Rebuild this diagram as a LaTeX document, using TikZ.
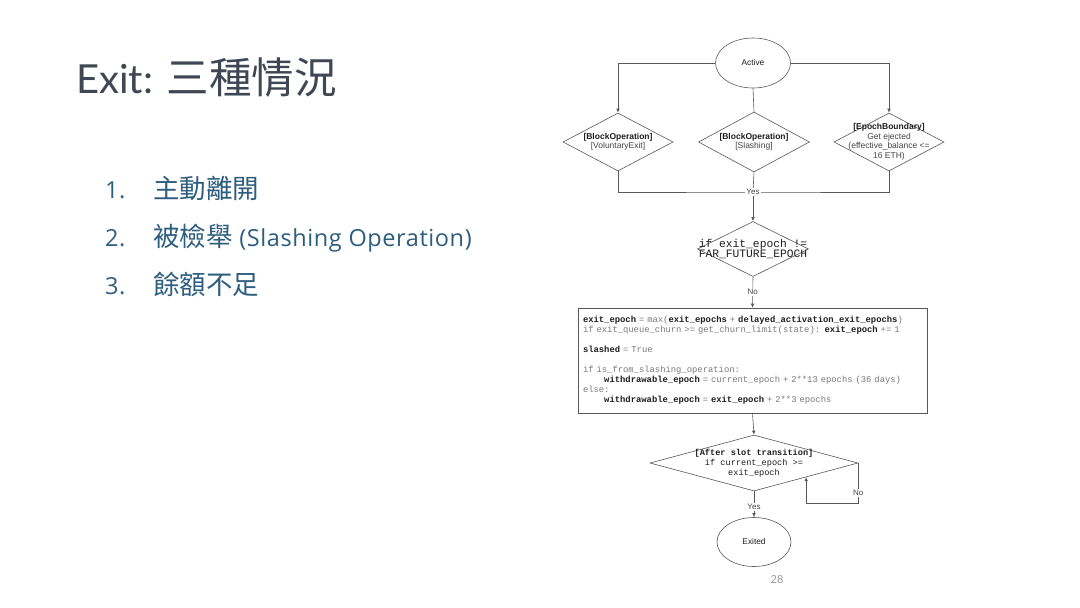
\documentclass[tikz,border=0pt]{standalone}
\usepackage{fontspec}
\setmonofont{Liberation Mono}
\newfontfamily\diafont{Liberation Sans}
\newfontfamily\slidefont{Lato}
\newfontfamily\listfont[LetterSpace=2.5]{Open Sans}
\newfontfamily\cjk{Noto Sans CJK TC}
\usetikzlibrary{arrows.meta,shapes.geometric,positioning}
\definecolor{ink}{HTML}{1E1E1E}
\definecolor{ink2}{HTML}{454545}
\definecolor{edge}{HTML}{585858}
\definecolor{codegray}{HTML}{7A7A7A}
\definecolor{titlegray}{HTML}{3E4753}
\definecolor{listblue}{HTML}{2E5E7E}
\definecolor{pagegray}{HTML}{9A9A9A}
\newcommand{\kw}[1]{\textbf{\textcolor{ink}{#1}}}
\newcommand{\ind}{\hspace*{2.4em}}
\tikzset{
  every node/.style={inner sep=0pt},
  term/.style={draw=edge, line width=0.6pt, ellipse, minimum width=75pt, minimum height=50pt,
               font=\diafont\fontsize{8.3}{9.6}\selectfont, text=ink},
  dec/.style={draw=edge, line width=0.6pt, diamond, inner sep=0pt},
  dlab/.style={align=center, font=\diafont\fontsize{8.5}{9.5}\selectfont, text=ink2},
  clab/.style={align=center, font=\ttfamily\fontsize{8.6}{10}\selectfont, text=ink},
  codebox/.style={draw=edge, line width=0.6pt, align=left, text width=339pt, inner xsep=5pt,
                  minimum height=105pt, font=\ttfamily\fontsize{8.85}{10}\selectfont, text=codegray},
  arr/.style={-{Latex[length=4pt,width=3.6pt]}, draw=edge, line width=0.6pt},
  conn/.style={draw=edge, line width=0.6pt},
  lab/.style={font=\diafont\fontsize{8}{9}\selectfont, text=ink2, fill=white, inner sep=1pt},
  title/.style={font=\slidefont\fontsize{40}{42}\selectfont, text=titlegray, anchor=base west},
  num/.style={font=\listfont\fontsize{23.5}{26}\selectfont, text=listblue, anchor=base west},
  item/.style={font=\listfont\fontsize{23.5}{26}\selectfont, text=listblue, anchor=base west},
}

\begin{document}
\begin{tikzpicture}[x=1pt, y=-1pt]
% ---- page -------------------------------------------------------------------
\useasboundingbox[fill=white] (0,0) rectangle (1080,608);

% ---- slide text ---------------------------------------------------------------
\node[title] (title) at (76,93) {Exit: {\cjk\fontsize{42.5}{42}\selectfont 三種情況}};
\node[num]  (n1) at (105,198) {1.};
\node[item] (i1) at (153,198) {{\cjk\fontsize{26.5}{26}\selectfont 主動離開}};
\node[num]  (n2) at (105,246) {2.};
\node[item] (i2) at (153,246) {{\cjk\fontsize{26.5}{26}\selectfont 被檢舉} (Slashing Operation)};
\node[num]  (n3) at (105,294) {3.};
\node[item] (i3) at (153,294) {{\cjk\fontsize{26.5}{26}\selectfont 餘額不足}};
\node[font=\slidefont\fontsize{11}{12}\selectfont, text=pagegray] (page) at (777,580) {28};

% ---- grid (pt, y down) ----------------------------------------------------------
\def\xL{618} \def\xM{753} \def\xR{889}
\def\rA{63} \def\rB{142} \def\rJ{192} \def\rF{249} \def\rC{360.5} \def\rS{463} \def\rE{542}

% ---- states -------------------------------------------------------------------
\node[term] (active) at (\xM,\rA) {Active};
\node[term, minimum width=74pt, minimum height=49pt] (exited) at (\xM+1,\rE) {Exited};

% ---- exit triggers ------------------------------------------------------------
\node[dec, minimum width=110pt, minimum height=58pt,
      label={[dlab]center:{\textbf{\textcolor{ink}{[BlockOperation]}}\\{[VoluntaryExit]}}}] (vol) at (\xL,\rB) {};
\node[dec, minimum width=111pt, minimum height=60pt,
      label={[dlab]center:{\textbf{\textcolor{ink}{[BlockOperation]}}\\{[Slashing]}}}] (slash) at (\xM+1,\rB) {};
\node[dec, minimum width=110pt, minimum height=58pt,
      label={[dlab]center:{\textbf{\textcolor{ink}{[EpochBoundary]}}\\Get ejected\\(effective\_balance <=\\16 ETH)}}] (eject) at (\xR,\rB) {};
\coordinate (J) at (\xM,\rJ);   % the three triggers join here

% ---- exit epoch check ---------------------------------------------------------
\node[dec, minimum width=111pt, minimum height=55pt,
      label={[clab, font=\ttfamily\fontsize{11.3}{10}\selectfont]center:{if exit\_epoch !=\\FAR\_FUTURE\_EPOCH}}] (far) at (\xM,\rF) {};

% ---- exit queue ---------------------------------------------------------------
\node[codebox] (queue) at (752.5,\rC) {%
\kw{exit\_epoch} = max(\kw{exit\_epochs} + \kw{delayed\_activation\_exit\_epochs})\\
if exit\_queue\_churn >= get\_churn\_limit(state): \kw{exit\_epoch} += 1\\[10pt]
\kw{slashed} = True\\[10pt]
if is\_from\_slashing\_operation:\\
\ind\kw{withdrawable\_epoch} = current\_epoch + 2**13 epochs (36 days)\\
else:\\
\ind\kw{withdrawable\_epoch} = \kw{exit\_epoch} + 2**3 epochs};

% ---- slot transition ----------------------------------------------------------
\node[dec, minimum width=208pt, minimum height=56pt,
      label={[clab]center:{\textbf{[After slot transition]}\\if current\_epoch >=\\exit\_epoch}}] (slot) at (\xM+1,\rS) {};

% ---- edges: triggers ----------------------------------------------------------
\draw[arr] (active.west) -| (vol.north);
\draw[arr] (active.east) -| (eject.north);
\draw[conn] (active.south) -- (slash.north);
\draw[conn] (vol.south) |- (J) -| (eject.south);
\draw[conn] (slash.south) -- (J);
\draw[arr] (J) -- (far.north);
\node[lab] (yes1) at (J) {Yes};

% ---- edges: queue and slot ----------------------------------------------------
\draw[arr] (far.south) -- node[lab] (no1) {No} (queue.north);
\draw[arr] (queue.south) -- (slot.north);
\draw[arr] (slot.east) -- ++(0,40) node[lab, pos=0.75] (no2) {No} -| (slot.south east);
\draw[arr] (slot.south) -- node[lab, pos=0.6] (yes2) {Yes} (exited.north);
\end{tikzpicture}
\end{document}
